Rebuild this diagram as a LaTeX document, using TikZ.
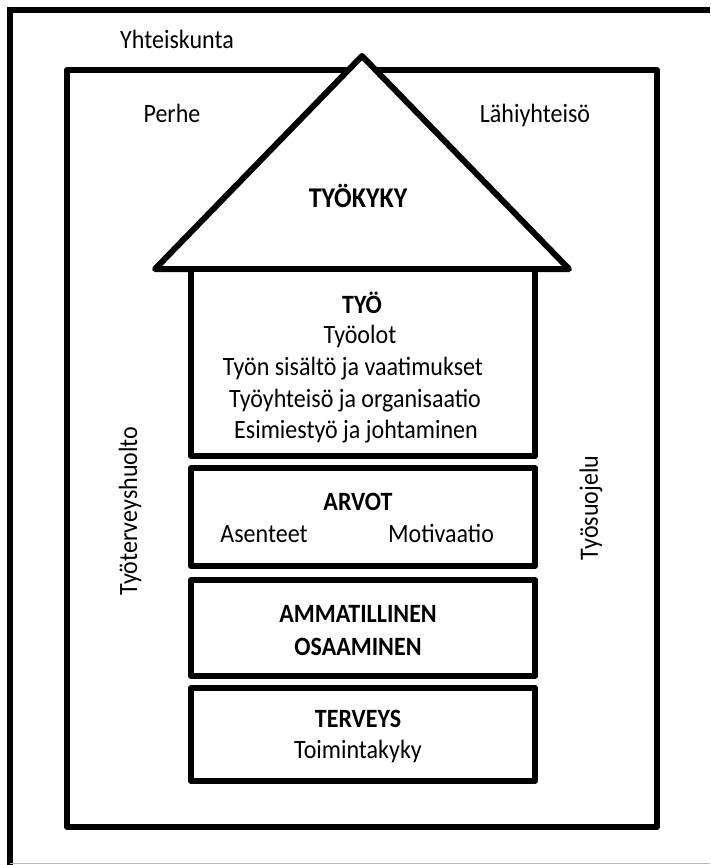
\documentclass[tikz,border=0pt]{standalone}
\usepackage{fontspec}
\setmainfont{Carlito}
\begin{document}
\begin{tikzpicture}[x=1pt,y=-1pt,
  heavy/.style={line width=6pt, line join=round, black},
  box/.style={draw, line width=6pt, line join=round, fill=white, minimum width=344pt, inner sep=0pt},
  lbl/.style={font=\fontsize{24}{28}\selectfont, inner sep=0pt, anchor=base, yscale=1.1},
  hd/.style={lbl, font=\fontsize{24}{28}\selectfont\bfseries},
  side/.style={font=\fontsize{24}{28}\selectfont, inner sep=0pt, rotate=90, yscale=1.1}]
\useasboundingbox (0,0) rectangle (710,865);
\fill[white] (0,0) rectangle (710,865);
% outer frame (Yhteiskunta)
\draw[heavy] (10,865) -- (10,10);
\draw[heavy] (7,10) -- (710,10);
\draw[gray!55, line width=1.2pt] (10,863.5) -- (710,863.5);
% inner frame
\draw[heavy] (67,70) rectangle (657,827);
% roof
\draw[heavy, fill=white] (362,56) -- (155,269) -- (569,269) -- cycle;
% boxes
\node[box, minimum height=187pt] (tyo) at (363,362.5) {};
\node[box, minimum height=98pt] (arvot) at (363,517) {};
\node[box, minimum height=96pt] (osaaminen) at (363,628) {};
\node[box, minimum height=93pt] (terveys) at (363,734.5) {};
% texts
\node[lbl] (yhteiskunta) at (177,48) {Yhteiskunta};
\node[lbl] (perhe) at (172,122) {Perhe};
\node[lbl] (lahi) at (535,122) {Lähiyhteisö};
\node[hd, font=\fontsize{26}{30}\selectfont\bfseries] (tyokyky) at (358,207) {TYÖKYKY};
\node[hd] (tyoh) at (362,313) {TYÖ};
\node[lbl] (t1) at (360,343) {Työolot};
\node[lbl] (t2) at (353,375) {Työn sisältö ja vaatimukset};
\node[lbl] (t3) at (355,407) {Työyhteisö ja organisaatio};
\node[lbl] (t4) at (356,438) {Esimiestyö ja johtaminen};
\node[hd] (arvoth) at (358,510) {ARVOT};
\node[lbl] (asenteet) at (264,542) {Asenteet};
\node[lbl] (motivaatio) at (441,542) {Motivaatio};
\node[hd] (amm) at (358,622) {AMMATILLINEN};
\node[hd] (osa) at (358,655) {OSAAMINEN};
\node[hd] (terveysh) at (358,727) {TERVEYS};
\node[lbl] (toim) at (358,758) {Toimintakyky};
\node[side] (tth) at (130,511) {Työterveyshuolto};
\node[side] (tsu) at (591,508) {Työsuojelu};
\end{tikzpicture}
\end{document}
